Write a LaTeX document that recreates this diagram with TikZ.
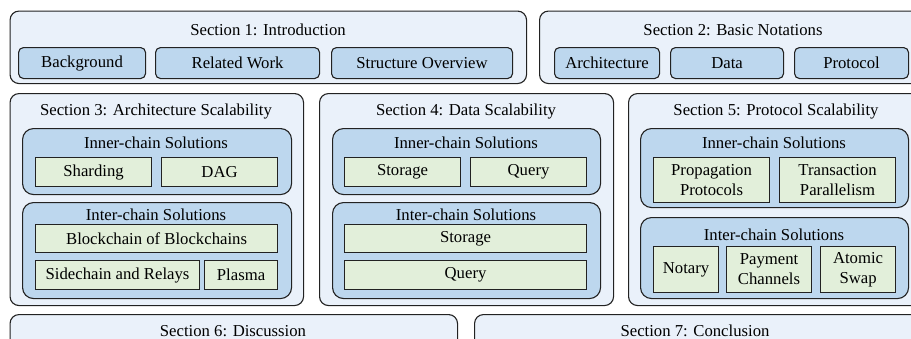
\documentclass[tikz,border=0pt]{standalone}
\usepackage{fontspec}
\setmainfont{Liberation Serif}
\usetikzlibrary{positioning}
\definecolor{sectfill}{HTML}{EAF1FA}
\definecolor{grpfill}{HTML}{BDD7EE}
\definecolor{itemfill}{HTML}{E2EFDA}
\definecolor{edge}{HTML}{222222}
\begin{document}
\begin{tikzpicture}[x=1pt,y=-1pt,
    every node/.style={font=\fontsize{16.7}{20}\selectfont, inner sep=1pt},
    sect/.style={draw=edge, line width=1.1pt, fill=sectfill, rounded corners=9pt, anchor=north west},
    grp/.style={draw=edge, line width=1.1pt, fill=grpfill, rounded corners=11pt, anchor=north west},
    sub/.style={draw=edge, line width=1.1pt, fill=grpfill, rounded corners=5pt, anchor=north west, align=center},
    item/.style={draw=edge, line width=1.1pt, fill=itemfill, anchor=north west, align=center},
    title/.style={anchor=center}]
    \useasboundingbox (0,0) rectangle (911,338);
    \clip (0,0) rectangle (911,338);
    % section 1
    \node[sect, minimum width=516.5pt, minimum height=72.5pt] (s1) at (9.5,10.5) {};
    \node[title] (s1t) at (268,30) {Section 1: Introduction};
    \node[sub, minimum width=127pt, minimum height=31pt] (bg) at (18,47) {Background};
    \node[sub, minimum width=164pt, minimum height=31pt] (rw) at (155,47) {Related Work};
    \node[sub, minimum width=181pt, minimum height=31pt] (so) at (331,47) {Structure Overview};
    % section 2
    \node[sect, minimum width=386pt, minimum height=72.5pt] (s2) at (539,10.5) {};
    \node[title] (s2t) at (733,30) {Section 2: Basic Notations};
    \node[sub, minimum width=105pt, minimum height=31pt] (arch) at (554,47) {Architecture};
    \node[sub, minimum width=113pt, minimum height=31pt] (data) at (670,47) {Data};
    \node[sub, minimum width=114pt, minimum height=31pt] (prot) at (794,47) {Protocol};
    % section 3
    \node[sect, minimum width=293.5pt, minimum height=212pt] (s3) at (9.5,93) {};
    \node[title] (s3t) at (156,112) {Section 3: Architecture Scalability};
    \node[grp, minimum width=269pt, minimum height=66pt] (s3in) at (22,128) {};
    \node[title] (s3int) at (156,143) {Inner-chain Solutions};
    \node[item, minimum width=116pt, minimum height=29pt] (shard) at (35,157) {Sharding};
    \node[item, minimum width=116pt, minimum height=29pt] (dag) at (161,157) {DAG};
    \node[grp, minimum width=269pt, minimum height=96pt] (s3ex) at (22,202) {};
    \node[title] (s3ext) at (156,215) {Inter-chain Solutions};
    \node[item, minimum width=242pt, minimum height=28pt] (bob) at (35,224) {Blockchain of Blockchains};
    \node[item, minimum width=164pt, minimum height=29pt] (side) at (35,260) {Sidechain and Relays};
    \node[item, minimum width=73pt, minimum height=29pt] (plasma) at (204,260) {Plasma};
    % section 4
    \node[sect, minimum width=294pt, minimum height=212pt] (s4) at (319,93) {};
    \node[title] (s4t) at (466,112) {Section 4: Data Scalability};
    \node[grp, minimum width=268pt, minimum height=66pt] (s4in) at (332,128) {};
    \node[title] (s4int) at (466,143) {Inner-chain Solutions};
    \node[item, minimum width=116pt, minimum height=29pt] (stor) at (344,157) {Storage};
    \node[item, minimum width=116pt, minimum height=29pt] (query) at (470,157) {Query};
    \node[grp, minimum width=268pt, minimum height=96pt] (s4ex) at (332,202) {};
    \node[title] (s4ext) at (466,215) {Inter-chain Solutions};
    \node[item, minimum width=242pt, minimum height=28pt] (xstor) at (344,224) {Storage};
    \node[item, minimum width=242pt, minimum height=29pt] (xquery) at (344,260) {Query};
    % section 5
    \node[sect, minimum width=296pt, minimum height=212pt] (s5) at (628,93) {};
    \node[title] (s5t) at (776,112) {Section 5: Protocol Scalability};
    \node[grp, minimum width=268pt, minimum height=79pt] (s5in) at (640,128) {};
    \node[title] (s5int) at (774,143) {Inner-chain Solutions};
    \node[item, minimum width=116pt, minimum height=45pt] (prop) at (653,157) {Propagation\\Protocols};
    \node[item, minimum width=116pt, minimum height=45pt] (para) at (779,157) {Transaction\\Parallelism};
    \node[grp, minimum width=268pt, minimum height=81pt] (s5ex) at (640,217) {};
    \node[title] (s5ext) at (774,235) {Inter-chain Solutions};
    \node[item, minimum width=65pt, minimum height=46pt] (notary) at (653,246) {Notary};
    \node[item, minimum width=85pt, minimum height=46pt] (pay) at (726,246) {Payment\\Channels};
    \node[item, minimum width=75pt, minimum height=46pt] (swap) at (820,246) {Atomic\\Swap};
    % sections 6 and 7
    \node[sect, minimum width=447.5pt, minimum height=50pt] (s6) at (9.5,314) {};
    \node[title] (s6t) at (233,331) {Section 6: Discussion};
    \node[sect, minimum width=445pt, minimum height=50pt] (s7) at (474,314) {};
    \node[title] (s7t) at (695,331) {Section 7: Conclusion};
\end{tikzpicture}
\end{document}
